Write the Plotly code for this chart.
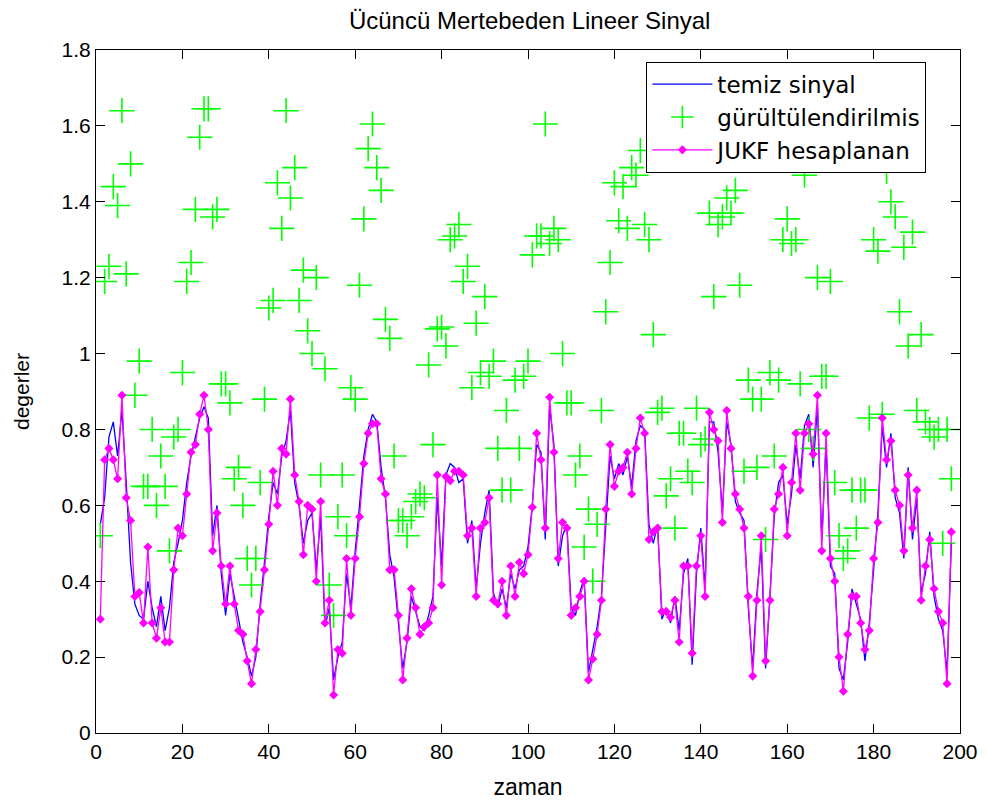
import plotly.graph_objects as go

# time index
zaman = list(range(1, 199))

# clean signal (temiz sinyal)
temiz = [
    0.55, 0.62, 0.78, 0.82, 0.73, 0.85, 0.66, 0.45, 0.34, 0.31,
    0.30, 0.40, 0.33, 0.28, 0.36, 0.27, 0.33, 0.45, 0.50, 0.56,
    0.66, 0.73, 0.78, 0.83, 0.86, 0.83, 0.52, 0.60, 0.42, 0.31,
    0.42, 0.36, 0.29, 0.24, 0.20, 0.15, 0.20, 0.34, 0.45, 0.57,
    0.66, 0.63, 0.73, 0.77, 0.85, 0.66, 0.60, 0.50, 0.56, 0.58,
    0.43, 0.57, 0.28, 0.33, 0.14, 0.20, 0.24, 0.42, 0.33, 0.48,
    0.60, 0.73, 0.80, 0.84, 0.82, 0.70, 0.62, 0.47, 0.41, 0.29,
    0.17, 0.24, 0.36, 0.32, 0.28, 0.27, 0.31, 0.36, 0.62, 0.44,
    0.68, 0.71, 0.70, 0.66, 0.67, 0.50, 0.56, 0.38, 0.50, 0.58,
    0.64, 0.37, 0.33, 0.38, 0.33, 0.42, 0.38, 0.43, 0.44, 0.49,
    0.60, 0.76, 0.74, 0.51, 0.86, 0.76, 0.44, 0.52, 0.55, 0.33,
    0.31, 0.37, 0.41, 0.16, 0.22, 0.28, 0.36, 0.56, 0.73, 0.67,
    0.71, 0.68, 0.73, 0.65, 0.77, 0.81, 0.80, 0.55, 0.50, 0.55,
    0.30, 0.33, 0.29, 0.36, 0.27, 0.42, 0.46, 0.18, 0.42, 0.54,
    0.38, 0.82, 0.82, 0.74, 0.58, 0.82, 0.76, 0.61, 0.58, 0.56,
    0.33, 0.17, 0.37, 0.49, 0.17, 0.36, 0.57, 0.66, 0.68, 0.55,
    0.63, 0.76, 0.67, 0.81, 0.84, 0.70, 0.86, 0.51, 0.76, 0.44,
    0.42, 0.17, 0.14, 0.24, 0.38, 0.34, 0.30, 0.19, 0.29, 0.43,
    0.58, 0.81, 0.70, 0.79, 0.62, 0.58, 0.46, 0.70, 0.51, 0.62,
    0.37, 0.42, 0.53, 0.36, 0.30, 0.27, 0.16, 0.50,
]

# noisy measurements (gürültülendirilmis)
gurultulu = [
    0.52, 1.19, 1.23, 1.44, 1.39, 1.64, 1.21, 1.50, 0.89, 0.98,
    0.65, 0.65, 0.80, 0.60, 0.73, 0.65, 0.48, 0.78, 0.80, 0.95,
    1.19, 1.24, 1.38, 1.57, 1.645, 1.645, 1.36, 1.38, 0.92, 0.92,
    0.87, 0.67, 0.70, 0.60, 0.46, 0.39, 0.46, 0.66, 0.88, 1.12,
    1.14, 1.45, 1.33, 1.64, 1.41, 1.49, 1.14, 1.22, 1.06, 1.00,
    1.20, 0.68, 0.96, 0.39, 0.31, 0.57, 0.68, 0.52, 0.91, 0.88,
    1.18, 1.355, 1.54, 1.605, 1.49, 1.43, 1.09, 1.04, 0.73, 0.56,
    0.56, 0.52, 0.57, 0.61, 0.63, 0.62, 0.97, 0.76, 1.065, 1.07,
    1.02, 1.30, 1.31, 1.34, 1.19, 1.23, 0.91, 1.08, 0.95, 1.15,
    0.94, 0.98, 0.75, 0.64, 0.85, 0.64, 0.93, 0.75, 0.94, 0.98,
    1.26, 1.31, 1.31, 1.605, 1.29, 1.33, 1.30, 1.00, 0.87, 0.87,
    0.68, 0.73, 0.49, 0.59, 0.40, 0.55, 0.85, 1.11, 1.24, 1.45,
    1.35, 1.44, 1.33, 1.49, 1.47, 1.535, 1.34, 1.30, 1.05, 0.845,
    0.856, 0.625, 0.67, 0.54, 0.79, 0.79, 0.69, 0.66, 0.856, 0.76,
    0.775, 1.37, 1.15, 1.34, 1.36, 1.41, 1.37, 1.43, 1.18, 0.69,
    0.93, 0.88, 0.70, 0.88, 0.51, 0.95, 0.73, 0.93, 1.30, 1.355,
    1.29, 1.30, 0.92, 1.47, 0.80, 0.75, 1.20, 0.94, 0.94, 1.19,
    0.66, 0.52, 0.46, 0.48, 0.64, 0.54, 0.64, 0.64, 0.83, 1.30,
    1.27, 0.84, 1.48, 1.40, 1.36, 1.11, 1.28, 1.02, 1.32, 0.85,
    1.05, 0.82, 0.80, 0.78, 0.80, 0.50, 0.80, 0.67,
]

# filter estimate (JUKF hesaplanan)
jukf = [
    0.30, 0.72, 0.75, 0.72, 0.67, 0.89, 0.62, 0.56, 0.36, 0.37,
    0.29, 0.49, 0.29, 0.25, 0.33, 0.24, 0.24, 0.43, 0.54, 0.52,
    0.63, 0.74, 0.76, 0.84, 0.89, 0.80, 0.48, 0.58, 0.44, 0.34,
    0.44, 0.34, 0.27, 0.26, 0.19, 0.13, 0.22, 0.32, 0.43, 0.55,
    0.69, 0.60, 0.75, 0.735, 0.88, 0.68, 0.61, 0.47, 0.60, 0.59,
    0.40, 0.61, 0.29, 0.35, 0.10, 0.22, 0.21, 0.46, 0.31, 0.46,
    0.57, 0.71, 0.79, 0.815, 0.815, 0.67, 0.63, 0.43, 0.43, 0.31,
    0.14, 0.25, 0.38, 0.33, 0.26, 0.28, 0.29, 0.33, 0.68, 0.39,
    0.676, 0.665, 0.69, 0.69, 0.68, 0.52, 0.54, 0.36, 0.54, 0.555,
    0.62, 0.35, 0.34, 0.40, 0.31, 0.44, 0.36, 0.45, 0.42, 0.47,
    0.595, 0.79, 0.72, 0.54, 0.885, 0.74, 0.46, 0.555, 0.54, 0.31,
    0.33, 0.36, 0.40, 0.14, 0.195, 0.26, 0.35, 0.59, 0.76, 0.65,
    0.69, 0.70, 0.74, 0.63, 0.75, 0.83, 0.79, 0.51, 0.53, 0.54,
    0.32, 0.32, 0.305, 0.35, 0.24, 0.44, 0.44, 0.21, 0.44, 0.52,
    0.36, 0.845, 0.80, 0.77, 0.555, 0.85, 0.75, 0.63, 0.59, 0.54,
    0.36, 0.15, 0.35, 0.52, 0.19, 0.35, 0.59, 0.63, 0.70, 0.52,
    0.66, 0.79, 0.64, 0.79, 0.815, 0.735, 0.89, 0.48, 0.79, 0.46,
    0.40, 0.20, 0.11, 0.26, 0.36, 0.36, 0.29, 0.22, 0.27, 0.46,
    0.555, 0.83, 0.72, 0.77, 0.64, 0.60, 0.48, 0.68, 0.54, 0.64,
    0.35, 0.44, 0.51, 0.38, 0.32, 0.29, 0.13, 0.53,
]

x_ticks = [0, 20, 40, 60, 80, 100, 120, 140, 160, 180, 200]
y_ticks = [0, 0.2, 0.4, 0.6, 0.8, 1.0, 1.2, 1.4, 1.6, 1.8]
y_tick_labels = ["0", "0.2", "0.4", "0.6", "0.8", "1", "1.2", "1.4", "1.6", "1.8"]

FONT = "Liberation Sans, Arial, Helvetica, sans-serif"
LEGEND_FONT = "DejaVu Sans, Liberation Sans, Arial, sans-serif"

fig = go.Figure()
fig.add_trace(go.Scatter(
    x=zaman, y=temiz, mode="lines", name="temiz sinyal",
    line=dict(color="#0000ff", width=1.3),
))
fig.add_trace(go.Scatter(
    x=zaman, y=gurultulu, mode="markers", name="gürültülendirilmis",
    marker=dict(symbol="cross-thin", size=18, color="#00ff00",
                line=dict(color="#00ff00", width=1.6)),
))
fig.add_trace(go.Scatter(
    x=zaman, y=jukf, mode="lines+markers", name="JUKF hesaplanan",
    line=dict(color="#ff00ff", width=1.3),
    marker=dict(symbol="diamond", size=7, color="#ff00ff"),
))

axis_common = dict(
    showline=True, linecolor="black", linewidth=1, mirror="ticks",
    ticks="inside", ticklen=9, tickcolor="black", tickwidth=1,
    showgrid=False, zeroline=False,
    tickfont=dict(family=FONT, size=21, color="black"),
)

fig.update_layout(
    width=990, height=807,
    margin=dict(l=96, r=24, t=50, b=71),
    paper_bgcolor="white", plot_bgcolor="white",
    title=dict(text="Ücüncü Mertebeden Lineer Sinyal", x=0.535, xanchor="center",
               y=0.975, yanchor="middle",
               font=dict(family=FONT, size=24, color="black")),
    xaxis=dict(range=[0, 200], tickvals=x_ticks, ticktext=[str(v) for v in x_ticks],
               title=dict(text="zaman", font=dict(family=FONT, size=23, color="black"),
                          standoff=16),
               **axis_common),
    yaxis=dict(range=[0, 1.8], tickvals=y_ticks, ticktext=y_tick_labels,
               title=dict(text="degerler", font=dict(family=FONT, size=21, color="black"),
                          standoff=26),
               **axis_common),
    legend=dict(x=0.637, y=0.983, xanchor="left", yanchor="top",
                bgcolor="white", bordercolor="black", borderwidth=1,
                font=dict(family=LEGEND_FONT, size=23, color="black"),
                tracegroupgap=0, itemwidth=60),
    showlegend=True,
)

fig.write_html("out.html")
